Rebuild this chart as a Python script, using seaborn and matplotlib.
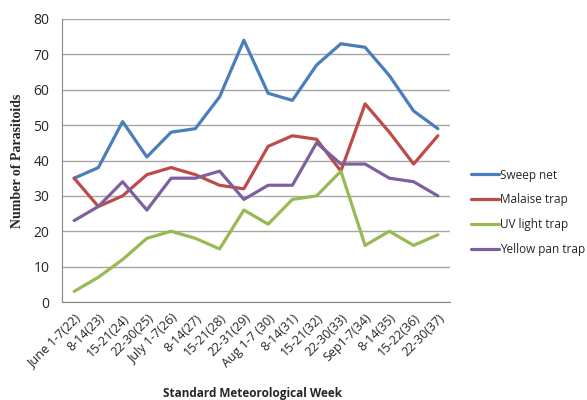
import numpy as np
import pandas as pd
import matplotlib
matplotlib.use("Agg")
import matplotlib.pyplot as plt
import seaborn as sns

weeks = ["June 1-7(22)", "8-14(23)", "15-21(24)", "22-30(25)", "July 1-7(26)",
         "8-14(27)", "15-21(28)", "22-31(29)", "Aug 1-7 (30)", "8-14(31)",
         "15-21(32)", "22-30(33)", "Sep1-7(34)", "8-14(35)", "15-22(36)", "22-30(37)"]
sweep_net = [35, 38, 51, 41, 48, 49, 58, 74, 59, 57, 67, 73, 72, 64, 54, 49]
malaise_trap = [35, 27, 30, 36, 38, 36, 33, 32, 44, 47, 46, 37, 56, 48, 39, 47]
uv_light_trap = [3, 7, 12, 18, 20, 18, 15, 26, 22, 29, 30, 37, 16, 20, 16, 19]
yellow_pan_trap = [23, 27, 34, 26, 35, 35, 37, 29, 33, 33, 45, 39, 39, 35, 34, 30]

series = {"Sweep net": sweep_net, "Malaise trap": malaise_trap,
          "UV light trap": uv_light_trap, "Yellow pan trap": yellow_pan_trap}
colors = ["#4A7EBB", "#BE4B48", "#98B954", "#7D60A0"]

frames = []
for name, vals in series.items():
    frames.append(pd.DataFrame({"pos": np.arange(len(weeks)), "count": vals, "trap": name}))
df = pd.concat(frames, ignore_index=True)

sns.set_style("white")
plt.rcParams["font.family"] = ["Open Sans", "DejaVu Sans"]

fig = plt.figure(figsize=(5.87, 4.0), dpi=100)
ax = fig.add_axes([0.1056, 0.245, 0.661, 0.7075])

sns.lineplot(data=df, x="pos", y="count", hue="trap", palette=colors,
             linewidth=2.3, ax=ax, legend=False)

ax.set_xlim(-0.5, len(weeks) - 0.5)
ax.set_ylim(0, 80)
ax.set_yticks(range(0, 81, 10))
ax.yaxis.grid(True, color="#a6a6a6", linewidth=1)
ax.set_axisbelow(True)

ax.set_xticks(range(len(weeks)))
ax.set_xticklabels(weeks, rotation=45, ha="right", rotation_mode="anchor", fontsize=9)
ax.tick_params(axis="x", which="major", length=0, pad=7)
ax.set_xticks(np.arange(-0.5, len(weeks), 1), minor=True)
ax.tick_params(axis="x", which="minor", length=4, color="#868686", direction="out")
ax.tick_params(axis="y", labelsize=10, length=4, color="#868686", direction="out", pad=5)

for s in ["top", "right"]:
    ax.spines[s].set_visible(False)
for s in ["left", "bottom"]:
    ax.spines[s].set_color("#868686")

ax.set_xlabel("Standard Meteorological Week", fontsize=8.5, fontweight="bold")
ax.xaxis.set_label_coords(0.49, -0.3)
ax.set_ylabel("Number of Parasitoids", fontsize=10, fontweight="bold",
              family="Liberation Serif", labelpad=7)

handles = [plt.Line2D([], [], color=c, linewidth=2.3) for c in colors]
fig.legend(handles, list(series.keys()), loc="upper left",
           bbox_to_anchor=(0.785, 0.605), frameon=False, fontsize=8.5,
           handlelength=2.3, handletextpad=0.15, labelspacing=1.0)

fig.savefig("out.png", dpi=100)
